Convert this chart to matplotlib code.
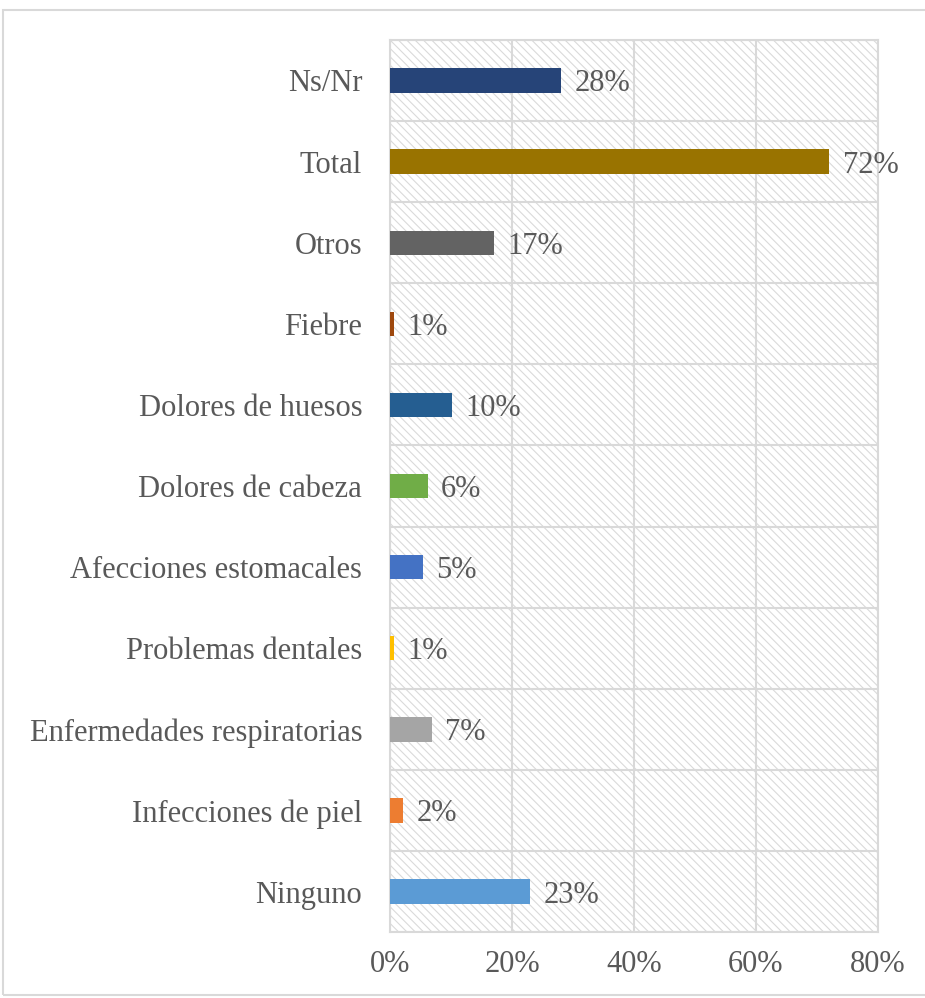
import matplotlib.pyplot as plt
from matplotlib.patches import Rectangle
from matplotlib.ticker import FuncFormatter

# categorías de abajo hacia arriba
categorias = ['Ninguno', 'Infecciones de piel', 'Enfermedades respiratorias',
              'Problemas dentales', 'Afecciones estomacales', 'Dolores de cabeza',
              'Dolores de huesos', 'Fiebre', 'Otros', 'Total', 'Ns/Nr']
valores = [0.23, 0.021, 0.069, 0.006, 0.054, 0.062, 0.102, 0.006, 0.17, 0.72, 0.28]
etiquetas = ['23%', '2%', '7%', '1%', '5%', '6%', '10%', '1%', '17%', '72%', '28%']
colores = ['#5B9BD5', '#ED7D31', '#A5A5A5', '#FFC000', '#4472C4', '#70AD47',
           '#255E91', '#9E480E', '#636363', '#997300', '#264478']
ticks_x = [0, 0.2, 0.4, 0.6, 0.8]

plt.rcParams['font.family'] = ['Liberation Serif', 'DejaVu Serif']
plt.rcParams['hatch.color'] = '#dadada'
plt.rcParams['hatch.linewidth'] = 0.8

fig = plt.figure(figsize=(9.25, 9.98), dpi=100)
ax = fig.add_axes([0.4216, 0.066, 0.5275, 0.894])

# fondo rayado
ax.patch.set_facecolor('white')
ax.add_patch(Rectangle((0, 0), 1, 1, transform=ax.transAxes, facecolor='white',
                       edgecolor='#dadada', hatch='\\' * 4, lw=0, zorder=0))

y = range(len(categorias))
ax.barh(y, valores, height=0.3, color=colores, zorder=3)

for i, (v, t) in enumerate(zip(valores, etiquetas)):
    ax.text(v + 0.022, i, t, va='center_baseline', ha='left', fontsize=22,
            color='#595959', zorder=4)

ax.set_xlim(0, 0.8)
ax.set_ylim(-0.5, len(categorias) - 0.5)
ax.set_xticks(ticks_x)
ax.xaxis.set_major_formatter(FuncFormatter(lambda v, p: f'{v * 100:.0f}%'))
ax.set_yticks(list(y))
ax.set_yticklabels(categorias, va='center_baseline')
ax.set_yticks([i + 0.5 for i in range(-1, len(categorias))], minor=True)

ax.tick_params(axis='both', length=0, labelsize=22, labelcolor='#595959')
ax.tick_params(axis='y', which='major', pad=20)
ax.tick_params(axis='x', pad=13)
ax.tick_params(which='minor', length=0)

ax.grid(axis='x', which='major', color='#d9d9d9', lw=1.5, zorder=1)
ax.grid(axis='y', which='minor', color='#d9d9d9', lw=1.5, zorder=1)
ax.set_axisbelow(True)
for s in ax.spines.values():
    s.set_color('#d9d9d9')
    s.set_linewidth(1.5)

# marco exterior del gráfico
fig.patches.append(Rectangle((3 / 925, 0.003), 1.0, 0.987, transform=fig.transFigure,
                             fill=False, edgecolor='#d9d9d9', lw=1.5))

fig.savefig('out.png', dpi=100)
